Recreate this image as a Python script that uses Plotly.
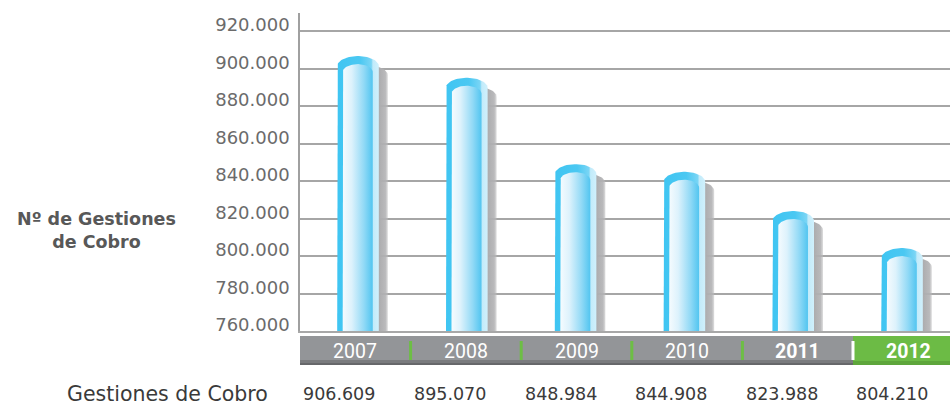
import numpy as np
import plotly.graph_objects as go

# ---------------- data ----------------
years = ["2007", "2008", "2009", "2010", "2011", "2012"]
bold_years = ["2011", "2012"]
gestiones = [906609, 895070, 848984, 844908, 823988, 804210]
tick_values = [760000, 780000, 800000, 820000, 840000, 860000, 880000, 900000, 920000]
tick_labels = ["760.000", "780.000", "800.000", "820.000", "840.000",
               "860.000", "880.000", "900.000", "920.000"]
value_labels = ["906.609", "895.070", "848.984", "844.908", "823.988", "804.210"]
row_title = "Gestiones de Cobro"
y_title = "Nº de Gestiones<br>de Cobro"

# ---------------- layout geometry ----------------
W, H = 950, 411
ML, MR, MT, MB = 300, 0, 13, 80
PW, PH = W - ML - MR, H - MT - MB
XR = [-0.533, 5.441]
YR = [760000, 929600]
BASE = YR[0]

def dx(p):  # pixels -> x data units
    return p * (XR[1] - XR[0]) / PW

def dy(p):  # pixels -> y data units
    return p * (YR[1] - YR[0]) / PH

def py(pix):  # pixel row -> paper y
    return (MT + PH - pix) / PH

def pxp(pix):  # pixel col -> paper x
    return (pix - ML) / PW

def cylinder(xc, hw, top, ry, base):
    yc = top - ry
    t = np.linspace(np.pi, 0, 40)
    xs = [xc - hw, xc - hw] + list(xc + hw * np.cos(t)) + [xc + hw, xc + hw, xc - hw]
    ys = [base, yc] + list(yc + ry * np.sin(t)) + [yc, base, base]
    return xs, ys

fig = go.Figure()

HW = dx(20.8)
for i, v in enumerate(gestiones):
    xc = i
    # shadow
    sx, sy = cylinder(xc + dx(9), HW, v - dy(9), dy(10), BASE)
    fig.add_trace(go.Scatter(
        x=sx, y=sy, mode="lines", line=dict(width=0), fill="toself",
        fillgradient=dict(type="horizontal", start=xc + HW, stop=xc + HW + dx(12),
                          colorscale=[[0, "rgba(172,172,174,1)"], [0.55, "rgba(178,178,180,0.9)"],
                                      [1, "rgba(200,200,200,0)"]]),
        hoverinfo="skip", showlegend=False))
    # outer body
    ox, oy = cylinder(xc, HW, v, dy(10), BASE)
    fig.add_trace(go.Scatter(
        x=ox, y=oy, mode="lines", line=dict(width=0), fill="toself",
        fillgradient=dict(type="horizontal", start=xc - HW, stop=xc + HW,
                          colorscale=[[0, "#3FC5F2"], [0.55, "#4BC8F2"], [0.82, "#7AD5F5"],
                                      [0.86, "#C2EBFA"], [1, "#D0F0FC"]]),
        hoverinfo="skip", showlegend=False))
    # inner body
    ihw = dx(15)
    ixc = xc - dx(0.3)
    ix, iy = cylinder(ixc, ihw, v - dy(8), dy(8), BASE)
    fig.add_trace(go.Scatter(
        x=ix, y=iy, mode="lines", line=dict(width=0), fill="toself",
        fillgradient=dict(type="horizontal", start=ixc - ihw, stop=ixc + ihw,
                          colorscale=[[0, "#F5FBFE"], [0.3, "#DDF2FC"], [0.7, "#93DAF6"],
                                      [1, "#52C5F0"]]),
        hoverinfo="skip", showlegend=False))

# ---------------- band, labels, table row ----------------
shapes = []
annotations = []
band_top, band_bot = 336, 365
cell_w = 110.6
shapes.append(dict(type="rect", xref="paper", yref="paper", x0=0, x1=1,
                   y0=py(band_bot), y1=py(band_top), fillcolor="#939598", line=dict(width=0),
                   layer="above"))
shapes.append(dict(type="rect", xref="paper", yref="paper", x0=0, x1=1,
                   y0=py(band_bot), y1=py(band_bot - 5), fillcolor="#7A7B7E", line=dict(width=0),
                   layer="above"))
shapes.append(dict(type="rect", xref="paper", yref="paper", x0=0, x1=1,
                   y0=py(band_bot), y1=py(band_bot - 2), fillcolor="#66676A", line=dict(width=0),
                   layer="above"))
g0 = pxp(ML + (len(years) - 1) * cell_w)
shapes.append(dict(type="rect", xref="paper", yref="paper", x0=g0, x1=1,
                   y0=py(band_bot), y1=py(band_top), fillcolor="#6CBB45", line=dict(width=0),
                   layer="above"))
shapes.append(dict(type="rect", xref="paper", yref="paper", x0=g0, x1=1,
                   y0=py(band_bot), y1=py(band_bot - 4), fillcolor="#5EA63B", line=dict(width=0),
                   layer="above"))
for k in range(1, len(years)):
    xb = pxp(ML + k * cell_w)
    col = "#FFFFFF" if k == len(years) - 1 else "#6DBE45"
    shapes.append(dict(type="line", xref="paper", yref="paper", x0=xb, x1=xb,
                       y0=py(360), y1=py(341), line=dict(color=col, width=3), layer="above"))

for k, yr in enumerate(years):
    cx = ML + (k + 0.5) * cell_w
    txt = f"<b>{yr}</b>" if yr in bold_years else yr
    annotations.append(dict(x=pxp(cx), y=py(351), xref="paper", yref="paper", text=txt,
                            showarrow=False, xanchor="center", yanchor="middle",
                            font=dict(family="Roboto", size=19.5, color="#FFFFFF")))
    annotations.append(dict(x=pxp(cx - 16), y=py(394), xref="paper", yref="paper",
                            text=value_labels[k], showarrow=False, xanchor="center",
                            yanchor="middle",
                            font=dict(family="DejaVu Sans", size=17.5, color="#3A3A3A")))

annotations.append(dict(x=pxp(270), y=py(394), xref="paper", yref="paper", text=row_title,
                        showarrow=False, xanchor="right", yanchor="middle",
                        font=dict(family="DejaVu Sans", size=20.5, color="#3A3A3A")))
annotations.append(dict(x=pxp(96), y=py(230), xref="paper", yref="paper",
                        text="<b>" + y_title.replace("<br>", "</b><br><b>") + "</b>",
                        showarrow=False, xanchor="center", yanchor="middle", align="center",
                        font=dict(family="DejaVu Sans", size=17.5, color="#585858")))

fig.update_layout(
    width=W, height=H,
    margin=dict(l=ML, r=MR, t=MT, b=MB, pad=0),
    paper_bgcolor="white", plot_bgcolor="white",
    showlegend=False,
    shapes=shapes, annotations=annotations,
    xaxis=dict(range=XR, showgrid=False, zeroline=False, showticklabels=False, ticks="",
               showline=True, linecolor="#A8A8A8", linewidth=2, fixedrange=True),
    yaxis=dict(range=YR, tickvals=tick_values, ticktext=tick_labels, showgrid=True,
               gridcolor="#A6A6A6", gridwidth=1.5, zeroline=False, showline=True,
               linecolor="#A0A0A0", linewidth=1.5, ticks="", ticklabelstandoff=5,
               ticklabelshift=-6,
               tickfont=dict(family="DejaVu Sans", size=18, color="#6B6B6B"), fixedrange=True),
)

fig.write_html("out.html")
